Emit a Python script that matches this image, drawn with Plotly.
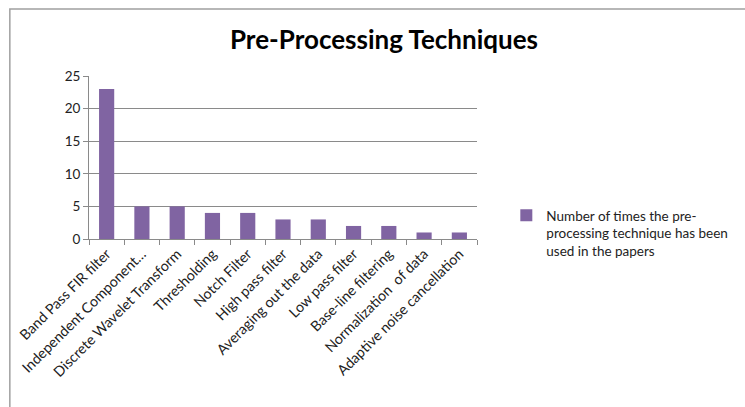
import plotly.graph_objects as go

# Pre-processing techniques and how many papers used each
techniques = [
    "Band Pass FIR filter",
    "Independent Component…",
    "Discrete Wavelet Transform",
    "Thresholding",
    "Notch Filter",
    "High pass filter",
    "Averaging out the data",
    "Low pass filter",
    "Base-line filtering",
    "Normalization  of data",
    "Adaptive noise cancellation",
]
usage_counts = [23, 5, 5, 4, 4, 3, 3, 2, 2, 1, 1]
series_name = "Number of times the pre-<br>processing technique has been<br>used in the papers"
y_ticks = [0, 5, 10, 15, 20, 25]

W, H = 745, 407
L, R, T, B = 89, 486, 76, 239
FONT = "Lato"
GRID = "#8a8a8a"

fig = go.Figure()
fig.add_trace(go.Bar(
    x=techniques,
    y=usage_counts,
    name=series_name,
    marker=dict(color="#8064A2", line=dict(width=0)),
    showlegend=True,
))

fig.update_layout(
    width=W, height=H,
    margin=dict(l=L, r=W - R, t=T, b=H - B, pad=0),
    paper_bgcolor="white",
    plot_bgcolor="white",
    bargap=0.57,
    font=dict(family=FONT, size=12, color="#222222"),
    title=dict(
        text="<b>Pre-Processing Techniques</b>",
        font=dict(family=FONT, size=26, color="black"),
        x=384 / W, xanchor="center",
        y=1 - 40 / H, yanchor="middle",
    ),
    showlegend=True,
    legend=dict(
        x=(516 - L) / (R - L), xanchor="left",
        y=(B - 233) / (B - T), yanchor="middle",
        valign="top",
        font=dict(family=FONT, size=13.5, color="#222222"),
        bgcolor="rgba(0,0,0,0)",
        itemwidth=30,
        tracegroupgap=0,
    ),
    xaxis=dict(
        type="category",
        showline=True, linecolor=GRID, linewidth=1,
        ticks="outside", tickson="boundaries", ticklen=5, tickcolor=GRID,
        tickangle=-45,
        tickfont=dict(family=FONT, size=14.3, color="#222222"),
        showgrid=False,
    ),
    yaxis=dict(
        range=[0, 25],
        tickvals=y_ticks,
        showline=True, linecolor=GRID, linewidth=1,
        ticks="outside", ticklen=5, tickcolor=GRID,
        showgrid=True, gridcolor=GRID, gridwidth=1,
        zeroline=False,
        tickfont=dict(family=FONT, size=13.5, color="#222222"),
    ),
    shapes=[
        dict(type="rect", xref="paper", yref="paper",
             x0=(8 - L) / (R - L), x1=(W + 20 - L) / (R - L),
             y0=(B - (H + 20)) / (B - T), y1=(B - 9) / (B - T),
             line=dict(color="#a0a0a0", width=1.5), fillcolor="rgba(0,0,0,0)",
             layer="below"),
    ],
)

fig.write_html("out.html")
